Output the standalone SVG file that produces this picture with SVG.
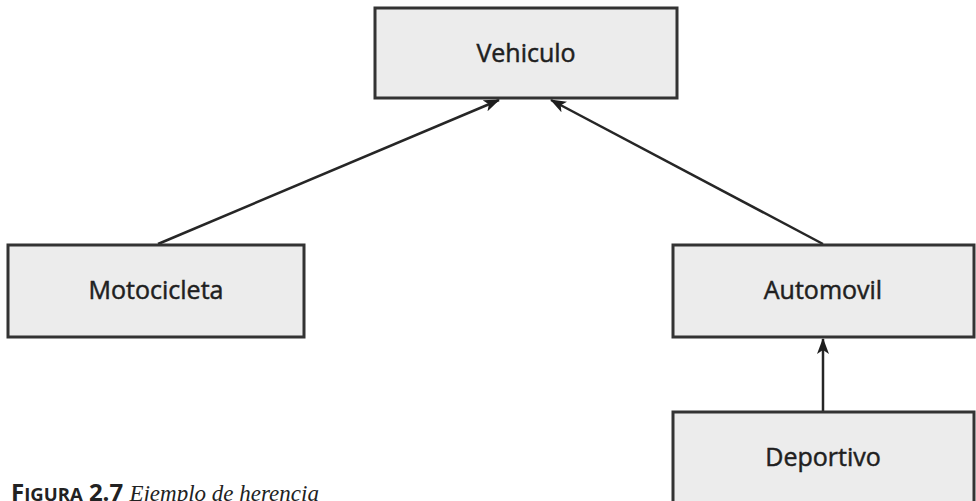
<svg xmlns="http://www.w3.org/2000/svg" width="976" height="501" viewBox="0 0 976 501">
  <style>
    .box { fill: #ececec; stroke: #333333; stroke-width: 3; }
    .label { font-family: "Open Sans", "Noto Sans", sans-serif; font-size: 25px; fill: #1f1f1f; stroke: #1f1f1f; stroke-width: 0.5; text-anchor: middle; }
    .edge { stroke: #262626; stroke-width: 2.5; fill: none; marker-end: url(#head); }
    .cap { font-family: "Open Sans", "Noto Sans", sans-serif; font-weight: bold; fill: #222; }
    .capit { font-family: "Liberation Serif", "DejaVu Serif", serif; font-style: italic; fill: #222; }
  </style>
  <defs>
    <marker id="head" viewBox="0 0 16 12" refX="15" refY="6" markerWidth="16" markerHeight="12" markerUnits="userSpaceOnUse" orient="auto">
      <path d="M0,0 L16,6 L0,12 L4,6 Z" fill="#1e1e1e"/>
    </marker>
  </defs>

  <rect width="976" height="501" fill="#ffffff"/>

  <g id="connectors">
    <line class="edge" x1="158" y1="244" x2="499" y2="100"/>
    <line class="edge" x1="823" y1="244" x2="551" y2="100"/>
    <line class="edge" x1="823" y1="411" x2="823" y2="339"/>
  </g>

  <g id="vehiculo">
    <rect class="box" x="375" y="8" width="302" height="90"/>
    <text class="label" x="526" y="62">Vehiculo</text>
  </g>

  <g id="motocicleta">
    <rect class="box" x="8" y="245" width="296" height="92"/>
    <text class="label" x="156" y="299">Motocicleta</text>
  </g>

  <g id="automovil">
    <rect class="box" x="673" y="245" width="301" height="92"/>
    <text class="label" x="823" y="299">Automovil</text>
  </g>

  <g id="deportivo">
    <rect class="box" x="673" y="412" width="301" height="100"/>
    <text class="label" x="823" y="466">Deportivo</text>
  </g>

  <g id="caption">
    <text x="11" y="501"><tspan class="cap" font-size="24">F</tspan><tspan class="cap" font-size="18.5">IGURA</tspan><tspan class="cap" font-size="24"> 2.7 </tspan><tspan class="capit" font-size="23">Ejemplo de herencia</tspan></text>
  </g>
</svg>
